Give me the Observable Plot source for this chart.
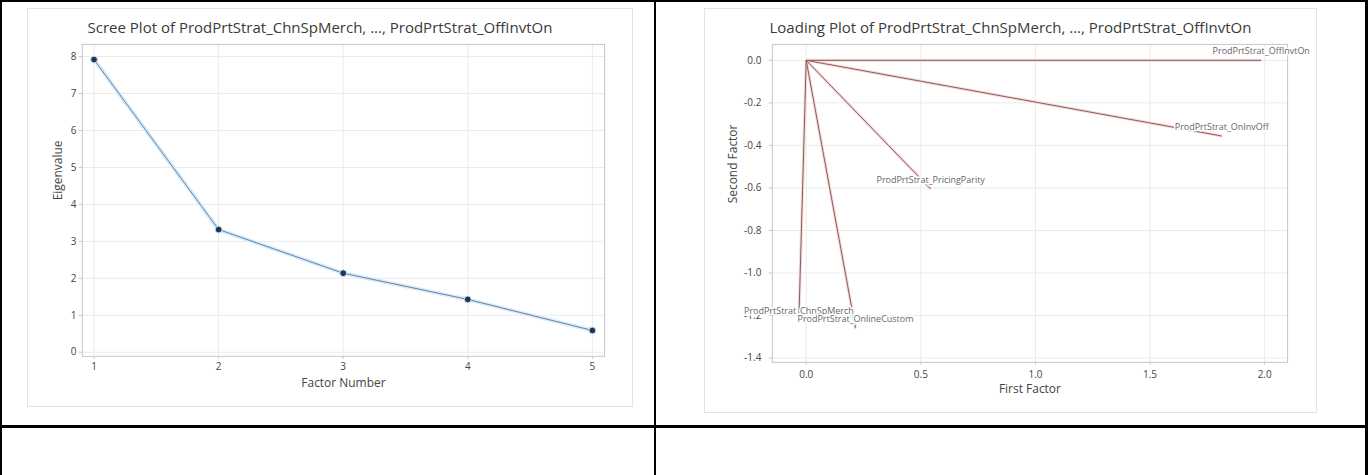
<!DOCTYPE html>
<html>
<head>
<meta charset="utf-8">
<script src="https://cdn.jsdelivr.net/npm/d3@7"></script>
<script src="https://cdn.jsdelivr.net/npm/@observablehq/plot@0.6"></script>
<style>
  html, body { margin: 0; padding: 0; background: #fff; }
  body { position: relative; width: 1368px; height: 475px; overflow: hidden; font-family: "Open Sans", "Noto Sans", sans-serif; }
  .rule { position: absolute; background: #000; }
  .panel { position: absolute; background: #fff; border: 1px solid #e3e3e3; box-sizing: border-box; }
  .panel svg { position: absolute; left: 0; top: 0; }
  .title { position: absolute; left: 0; right: 0; text-align: center; font-size: 15px; color: #3a3a3a; white-space: nowrap; }
</style>
</head>
<body>
<!-- table grid -->
<div class="rule" style="left:0;top:0;width:1368px;height:2px"></div>
<div class="rule" style="left:0;top:0;width:2px;height:475px"></div>
<div class="rule" style="left:654px;top:0;width:2px;height:475px"></div>
<div class="rule" style="left:1365px;top:0;width:3px;height:475px"></div>
<div class="rule" style="left:0;top:425px;width:1368px;height:3px"></div>

<div class="panel" id="scree" style="left:27px;top:8px;width:606px;height:399px">
  <div class="title" style="top:8px;padding-right:20px">Scree Plot of ProdPrtStrat_ChnSpMerch, ..., ProdPrtStrat_OffInvtOn</div>
</div>
<div class="panel" id="loading" style="left:704px;top:8px;width:613px;height:405px">
  <div class="title" style="top:8px;padding-right:0px">Loading Plot of ProdPrtStrat_ChnSpMerch, ..., ProdPrtStrat_OffInvtOn</div>
</div>

<script>
// Scree plot values
const factorNumber = [1, 2, 3, 4, 5];
const eigenvalue = [7.92, 3.32, 2.14, 1.43, 0.59];
const screeTicksX = [1, 2, 3, 4, 5];
const screeTicksY = [0, 1, 2, 3, 4, 5, 6, 7, 8];

// Loading plot values (first and second factor loadings per variable)
const variableName = [
  "ProdPrtStrat_ChnSpMerch",
  "ProdPrtStrat_OnlineCustom",
  "ProdPrtStrat_PricingParity",
  "ProdPrtStrat_OnInvOff",
  "ProdPrtStrat_OffInvtOn"
];
const firstFactor = [-0.032, 0.215, 0.543, 1.813, 1.985];
const secondFactor = [-1.22, -1.26, -0.605, -0.356, 0.0];
const loadingTicksX = [0, 0.5, 1.0, 1.5, 2.0];
const loadingTicksY = [0, -0.2, -0.4, -0.6, -0.8, -1.0, -1.2, -1.4];

const screeRows = factorNumber.map((f, i) => ({factor: f, eigen: eigenvalue[i]}));
const loadingRows = variableName.map((name, i) => ({name, first: firstFactor[i], second: secondFactor[i]}));

const gridColor = "#ebebeb";
const frameColor = "#c6c6c6";
const tickText = "#444";
const font = "'Open Sans', 'Noto Sans', sans-serif";

const scree = Plot.plot({
  width: 606,
  height: 399,
  marginLeft: 54,
  marginRight: 28,
  marginTop: 35,
  marginBottom: 51,
  style: {fontFamily: font, fontSize: "10px", background: "transparent", color: tickText},
  x: {domain: [0.906, 5.098]},
  y: {domain: [-0.11, 8.33]},
  marks: [
    Plot.gridX(screeTicksX, {stroke: gridColor, strokeOpacity: 1}),
    Plot.gridY(screeTicksY, {stroke: gridColor, strokeOpacity: 1}),
    Plot.frame({stroke: frameColor}),
    Plot.axisX(screeTicksX, {tickSize: 3, tickPadding: 4, stroke: frameColor, fill: tickText, label: null, tickFormat: d => String(d)}),
    Plot.axisY(screeTicksY, {tickSize: 3, tickPadding: 3, stroke: frameColor, fill: tickText, label: null, tickFormat: d => String(d)}),
    Plot.text(["Factor Number"], {text: d => d, frameAnchor: "bottom", dy: 31, fontSize: 12, fill: "#444"}),
    Plot.text(["Eigenvalue"], {text: d => d, frameAnchor: "left", rotate: -90, dx: -24, fontSize: 12, fill: "#444"}),
    Plot.line(screeRows, {x: "factor", y: "eigen", stroke: "#d6ebfa", strokeWidth: 4}),
    Plot.line(screeRows, {x: "factor", y: "eigen", stroke: "#6a83a0", strokeWidth: 1}),
    Plot.dot(screeRows, {x: "factor", y: "eigen", r: 3.4, fill: "#1c3456", stroke: "#cfe4f6", strokeWidth: 1})
  ]
});
document.getElementById("scree").appendChild(scree);

const loading = Plot.plot({
  width: 613,
  height: 405,
  marginLeft: 67,
  marginRight: 29,
  marginTop: 35,
  marginBottom: 51,
  style: {fontFamily: font, fontSize: "10px", background: "transparent", color: tickText},
  x: {domain: [-0.148, 2.1]},
  y: {domain: [-1.42, 0.075]},
  marks: [
    Plot.gridX(loadingTicksX, {stroke: gridColor, strokeOpacity: 1}),
    Plot.gridY(loadingTicksY, {stroke: gridColor, strokeOpacity: 1}),
    Plot.frame({stroke: frameColor}),
    Plot.axisX(loadingTicksX, {tickSize: 3, tickPadding: 6, stroke: frameColor, fill: tickText, label: null, tickFormat: d => d.toFixed(1)}),
    Plot.axisY(loadingTicksY, {tickSize: 3, tickPadding: 8, stroke: frameColor, fill: tickText, label: null, tickFormat: d => d.toFixed(1)}),
    Plot.text(["First Factor"], {text: d => d, frameAnchor: "bottom", dy: 31, fontSize: 12, fill: "#444"}),
    Plot.text(["Second Factor"], {text: d => d, frameAnchor: "left", rotate: -90, dx: -39, fontSize: 12, fill: "#444"}),
    Plot.link(loadingRows, {x1: () => 0, y1: () => 0, x2: "first", y2: "second", stroke: "#f4dada", strokeWidth: 3}),
    Plot.link(loadingRows, {x1: () => 0, y1: () => 0, x2: "first", y2: "second", stroke: "#8e5a5a", strokeWidth: 1}),
    Plot.text(loadingRows, {x: "first", y: "second", text: "name", dy: -9, fontSize: 9, fill: "#666", stroke: "white", strokeWidth: 3})
  ]
});
document.getElementById("loading").appendChild(loading);
</script>
</body>
</html>
